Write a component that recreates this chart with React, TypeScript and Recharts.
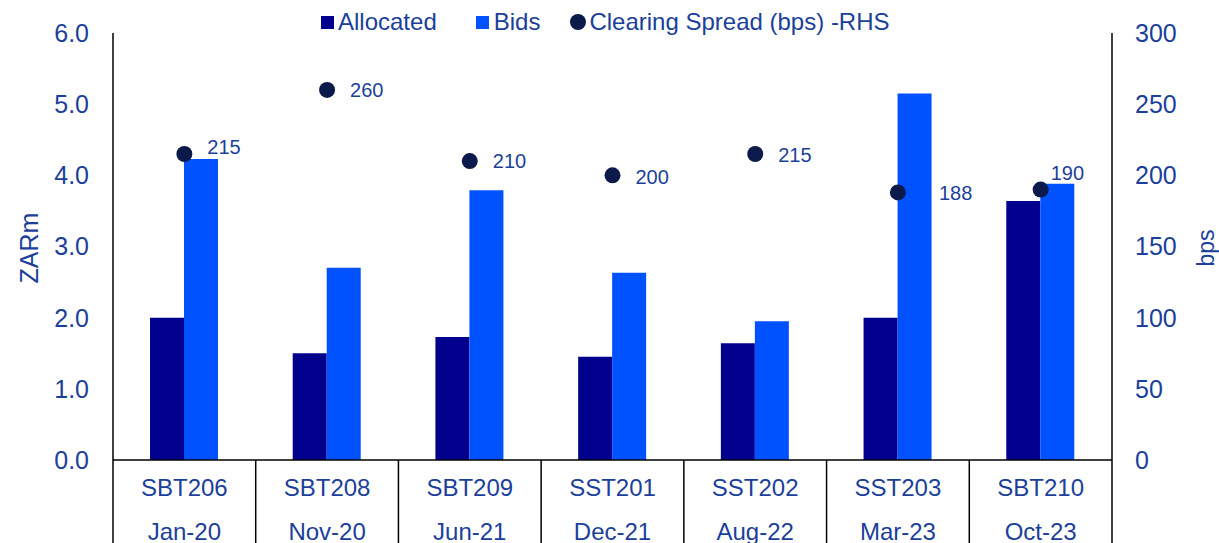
import {
  ComposedChart,
  Bar,
  Scatter,
  XAxis,
  YAxis,
  Legend,
  Label,
  LabelList,
} from 'recharts'

const bonds      = ['SBT206', 'SBT208', 'SBT209', 'SST201', 'SST202', 'SST203', 'SBT210']
const auctions   = ['Jan-20', 'Nov-20', 'Jun-21', 'Dec-21', 'Aug-22', 'Mar-23', 'Oct-23']
const allocated  = [2.0, 1.5, 1.73, 1.45, 1.64, 2.0, 3.64]
const bids       = [4.23, 2.7, 3.79, 2.63, 1.95, 5.15, 3.88]
const spreadBps  = [215, 260, 210, 200, 215, 188, 190]
const leftTicks  = [0, 1, 2, 3, 4, 5, 6]
const rightTicks = [0, 50, 100, 150, 200, 250, 300]

const data = bonds.map((bond, i) => ({
  bond,
  auction:   auctions[i],
  allocated: allocated[i],
  bids:      bids[i],
  spread:    spreadBps[i],
}))

const COLORS = {
  allocated: '#00008c',
  bids:      '#0052ff',
  spread:    '#0b1a4a',
  text:      '#1b3f9a',
}

const FONT = '"Liberation Sans", Arial, sans-serif'

// nudges (from the point centre) for the spread labels, as placed in the original
const LABEL_NUDGE: [number, number][] = [
  [23, -7], [23, 0], [23, 0], [23, 2], [23, 1], [41, 1], [10, -17],
]

const BAND_HALF = 999 / 7 / 2

function CategoryTick({ x, y, payload, index }: any) {
  const row = data[index] ?? data[0]
  return (
    <g>
      {index === 0 && (
        <line x1={x - BAND_HALF} y1={y} x2={x - BAND_HALF} y2={543} stroke="#000" strokeWidth={1.5} />
      )}
      <line x1={x + BAND_HALF} y1={y} x2={x + BAND_HALF} y2={543} stroke="#000" strokeWidth={1.5} />
      <text x={x} y={y + 36} textAnchor="middle" fill={COLORS.text} fontSize={24} fontFamily={FONT}>
        {payload.value}
      </text>
      <text x={x} y={y + 80} textAnchor="middle" fill={COLORS.text} fontSize={24} fontFamily={FONT}>
        {row.auction}
      </text>
    </g>
  )
}

function SpreadLabel({ viewBox, value, index }: any) {
  const [dx, dy] = LABEL_NUDGE[index] ?? [20, 0]
  const cx = viewBox.x + (viewBox.width ?? 0) / 2
  const cy = viewBox.y + (viewBox.height ?? 0) / 2
  return (
    <text
      x={cx + dx}
      y={cy + dy}
      dominantBaseline="central"
      fill={COLORS.text}
      fontSize={20}
      fontFamily={FONT}
    >
      {value}
    </text>
  )
}

function LegendContent() {
  const item = { display: 'flex', alignItems: 'center' } as const
  const txt  = { fontSize: 24, color: COLORS.text, fontFamily: FONT, lineHeight: '28px' }
  return (
    <div style={{ display: 'flex', alignItems: 'center', paddingLeft: 321, height: 28 }}>
      <div style={{ ...item, marginRight: 39 }}>
        <span style={{ width: 13, height: 13, background: COLORS.allocated, marginRight: 4 }} />
        <span style={txt}>Allocated</span>
      </div>
      <div style={{ ...item, marginRight: 30 }}>
        <span style={{ width: 13, height: 13, background: COLORS.bids, marginRight: 5 }} />
        <span style={txt}>Bids</span>
      </div>
      <div style={item}>
        <span style={{ width: 16, height: 16, borderRadius: 8, background: COLORS.spread, marginRight: 3 }} />
        <span style={txt}>Clearing Spread (bps) -RHS</span>
      </div>
    </div>
  )
}

function AxisTitle({ x, y, text, size }: { x: number; y: number; text: string; size: number }) {
  return (
    <text
      x={x}
      y={y}
      transform={`rotate(-90 ${x} ${y})`}
      textAnchor="middle"
      dominantBaseline="central"
      fill={COLORS.text}
      fontSize={size}
      fontFamily={FONT}
    >
      {text}
    </text>
  )
}

export default function App() {
  return (
    <div style={{ position: 'absolute', left: 0, top: 0, background: '#fff' }}>
      <ComposedChart
        width={1219}
        height={543}
        data={data}
        margin={{ top: 33, right: 0, bottom: 0, left: 0 }}
        barSize={34}
        barGap={0}
      >
        <XAxis
          dataKey="bond"
          height={83}
          tickLine={false}
          tickSize={0}
          tickMargin={0}
          axisLine={{ stroke: '#000', strokeWidth: 1.5 }}
          tick={<CategoryTick />}
          interval={0}
        />
        <YAxis
          yAxisId="left"
          width={113}
          domain={[0, 6]}
          ticks={leftTicks}
          tickFormatter={(v: number) => v.toFixed(1)}
          tickLine={false}
          tickSize={0}
          tickMargin={24}
          axisLine={{ stroke: '#000', strokeWidth: 1.5 }}
          tick={{ fill: COLORS.text, fontSize: 25, fontFamily: FONT }}
        >
          <Label content={() => <AxisTitle x={29} y={248} text="ZARm" size={25} />} />
        </YAxis>
        <YAxis
          yAxisId="right"
          orientation="right"
          width={107}
          domain={[0, 300]}
          ticks={rightTicks}
          tickLine={false}
          tickSize={0}
          tickMargin={23}
          axisLine={{ stroke: '#000', strokeWidth: 1.5 }}
          tick={{ fill: COLORS.text, fontSize: 25, fontFamily: FONT, textAnchor: 'start' }}
        >
          <Label content={() => <AxisTitle x={1206} y={248} text="bps" size={23} />} />
        </YAxis>
        <Legend
          layout="horizontal"
          verticalAlign="middle"
          align="center"
          wrapperStyle={{ top: 8, left: 0, width: 1219 }}
          content={<LegendContent />}
        />
        <Bar yAxisId="left" dataKey="allocated" name="Allocated" fill={COLORS.allocated} isAnimationActive={false} />
        <Bar yAxisId="left" dataKey="bids" name="Bids" fill={COLORS.bids} isAnimationActive={false} />
        <Scatter
          yAxisId="right"
          dataKey="spread"
          name="Clearing Spread (bps) -RHS"
          fill={COLORS.spread}
          isAnimationActive={false}
          shape={(p: any) => <circle cx={p.cx} cy={p.cy} r={8} fill={COLORS.spread} />}
        >
          <LabelList dataKey="spread" content={<SpreadLabel />} />
        </Scatter>
      </ComposedChart>
    </div>
  )
}
